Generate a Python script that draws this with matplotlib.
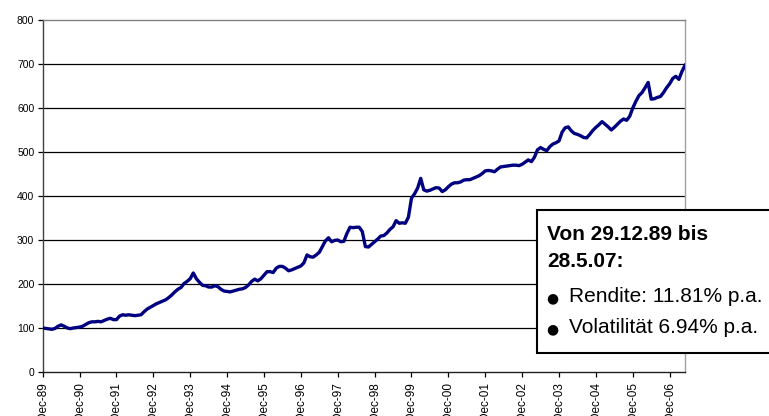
import matplotlib
matplotlib.use("Agg")
import matplotlib.pyplot as plt
from matplotlib.patches import Rectangle
import numpy as np

plt.rcParams['font.family'] = ['Liberation Sans', 'DejaVu Sans']

# index level, month-end readings from Dec-89 to May-07 (month 0 = Dec-89)
values = [
    100, 99, 98, 97, 99, 104, 107, 104, 100, 98.5, 100, 101,
    102, 104, 108, 112, 114, 114, 115, 114, 117, 120, 122, 119,
    119, 127, 130, 129, 130, 129, 128, 129, 130, 137, 143, 147,
    151, 155, 158, 161, 164, 169, 175, 182, 188, 192, 201, 206,
    212, 225, 212, 204, 197, 196, 193, 193, 196, 194, 188, 184,
    183, 182, 184, 186, 188, 189, 192, 198, 206, 211, 207, 212,
    220, 228, 228, 226, 236, 240, 240, 236, 230, 232, 235, 238,
    241, 248, 266, 262, 261, 266, 272, 285, 298, 305, 296, 299,
    300, 296, 297, 315, 329, 328, 329, 329, 319, 285, 284, 290,
    296, 302, 309, 310, 316, 324, 330, 344, 338, 339, 338, 352,
    395, 405, 418, 440, 414, 411, 413, 416, 419, 418, 410, 414,
    421, 427, 430, 430, 432, 436, 437, 437, 440, 443, 446, 451,
    457, 458, 457, 455, 461, 466, 467, 468, 469, 470, 470, 469,
    472, 477, 482, 478, 488, 505, 510, 506, 503, 512, 518, 521,
    525, 545, 555, 557, 548, 542, 540, 537, 533, 532, 540, 549,
    556, 562, 569, 563, 557, 550, 556, 563, 570, 575, 572, 581,
    600, 615, 628, 635, 646, 658, 620, 621, 624, 626, 635, 646,
    655, 667, 672, 665, 683, 697,
]
months = np.arange(len(values))

tick_labels = ["Dec-89", "Dec-90", "Dec-91", "Dec-92", "Dec-93", "Dec-94",
               "Dec-95", "Dec-96", "Dec-97", "Dec-98", "Dec-99", "Dec-00",
               "Dec-01", "Dec-02", "Dec-03", "Dec-04", "Dec-05", "Dec-06"]
y_ticks = [0, 100, 200, 300, 400, 500, 600, 700, 800]

box_title = ["Von 29.12.89 bis", "28.5.07:"]
box_items = ["Rendite: 11.81% p.a.", "Volatilität 6.94% p.a."]

fig = plt.figure(figsize=(7.69, 4.16), dpi=100)
ax = fig.add_axes([0.0555, 0.1058, 0.8353, 0.8462])

for yv in y_ticks[1:-1]:
    ax.axhline(yv, color='black', lw=0.9, zorder=1)

ax.plot(months, values, color='#000080', lw=2.4, zorder=3)

ax.set_xlim(0, len(values) - 1)
ax.set_ylim(0, 800)
ax.set_xticks(np.arange(len(tick_labels)) * 12)
ax.set_xticklabels(tick_labels, rotation=90, va='top', ha='center')
ax.set_yticks(y_ticks)
ax.tick_params(axis='both', direction='out', length=3.5,
               width=0.9, colors='black')
ax.tick_params(axis='y', labelsize=7.5, pad=2.5)
ax.tick_params(axis='x', labelsize=8.5, pad=4)

ax.spines['left'].set_color('#404040')
ax.spines['bottom'].set_color('#202020')
ax.spines['top'].set_color('#808080')
ax.spines['right'].set_color('#a0a0a0')
for s in ax.spines.values():
    s.set_linewidth(1.0)

# annotation box, running past the right edge of the figure
fig.patches.append(Rectangle((0.698, 0.1507), 0.35, 0.3445,
                             transform=fig.transFigure, facecolor='white',
                             edgecolor='black', lw=1.5, zorder=5))
fig.text(0.711, 0.424, box_title[0], fontsize=15, fontweight='bold',
         va='baseline', zorder=6)
fig.text(0.711, 0.357, box_title[1], fontsize=15, fontweight='bold',
         va='baseline', zorder=6)
for i, item in enumerate(box_items):
    yb = 0.274 - i * 0.075
    fig.text(0.710, yb, "\u25cf", fontsize=10, va='baseline', zorder=6,
             family='DejaVu Sans')
    fig.text(0.740, yb, item, fontsize=15, va='baseline', zorder=6)

fig.savefig("out.png", dpi=100)
